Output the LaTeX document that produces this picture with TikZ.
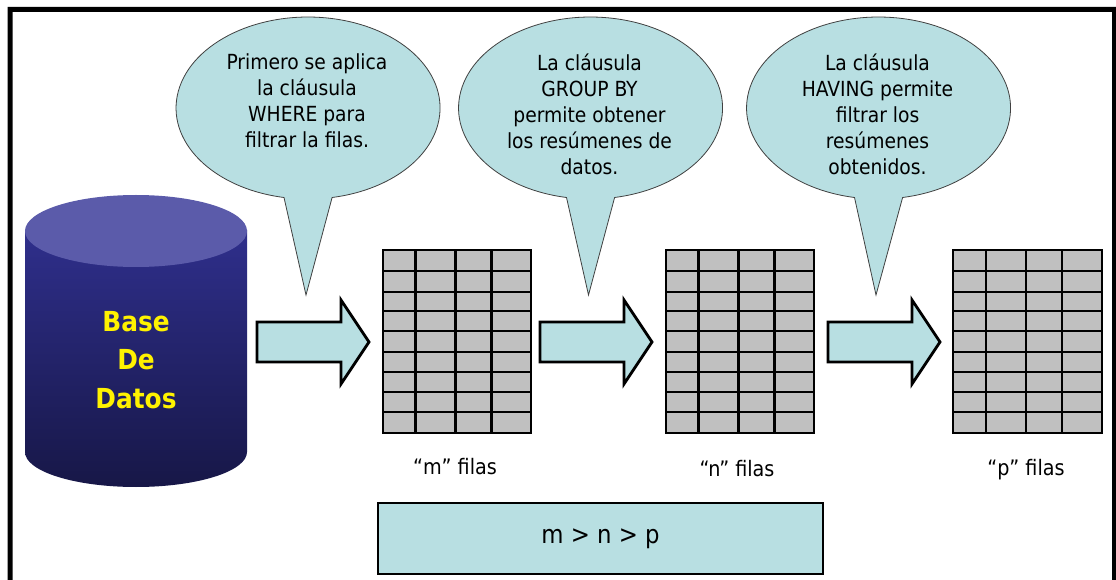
\documentclass[tikz,border=0pt]{standalone}
\usepackage{fontspec}
\setmainfont{DejaVu Sans Condensed}
\definecolor{paleblue}{HTML}{B8DFE2}
\definecolor{cellgray}{HTML}{C0C0C0}
\definecolor{cyltop}{HTML}{5B5BAA}
\definecolor{cylhi}{HTML}{2F2F8C}
\definecolor{cyllo}{HTML}{171747}
\tikzset{
  x=0.75pt,y=-0.75pt,
  bubbleshape/.style={fill=paleblue,draw=black!75,line width=0.6pt},
  bubbletext/.style={align=center,font=\fontsize{15.6pt}{19.6pt}\selectfont,text=black,inner sep=0pt},
  arrowshape/.style={fill=paleblue,draw=black,line width=2.1pt,miter limit=10},
  gridline/.style={draw=black,line width=2.1pt},
  caption/.style={font=\fontsize{16pt}{17pt}\selectfont,inner sep=0pt},
  dbtext/.style={align=center,text=yellow,font=\fontsize{20.7pt}{29pt}\selectfont\bfseries,inner sep=0pt},
}
\newcommand{\rowsgrid}[2]{%
  \begin{scope}[shift={(#1,0)},xscale=#2]
    \fill[cellgray] (0,250) rectangle (149,433);
    \foreach \yy in {271,292,311,331,352,372,392,412}
      \draw[gridline] (0,\yy) -- (149,\yy);
    \foreach \xx in {33,73,109}
      \draw[gridline] (\xx,250) -- (\xx,433);
    \draw[gridline] (0,250) rectangle (149,433);
  \end{scope}}
\newcommand{\bigarrow}[1]{%
  \begin{scope}[shift={(#1,0)}]
    \draw[arrowshape] (0,322) -- (84,322) -- (84,300) -- (112,342) -- (84,384) -- (84,362) -- (0,362) -- cycle;
  \end{scope}}
\newcommand{\bubble}[3]{%
  \draw[bubbleshape] (#1-24,197.5)
    arc[start angle=100.5,end angle=439.5,x radius=132,y radius=91] -- (#1+#2,295) -- cycle;
  \node[bubbletext,anchor=north] at (#1-1,53.5) {#3};}
\begin{document}
\begin{tikzpicture}
\useasboundingbox (0,0) rectangle (1116,580);
\fill[white] (0,0) rectangle (1116,580);
\fill[black,even odd rule] (7.5,7) rectangle (1116,580) (12.5,12) rectangle (1112,580);
% cylinder
\shade[top color=cylhi,middle color=cylhi!47!cyllo,bottom color=cyllo]
  (25,230) -- (25,452) arc[start angle=180,end angle=0,x radius=111,y radius=35] -- (247,230) -- cycle;
\fill[cyltop] (136,231) ellipse[x radius=111,y radius=36];
\node[dbtext] (db) at (136,360) {Base\\De\\Datos};
\bubble{308}{-2}{Primero se aplica\\la cláusula\\WHERE para\\filtrar la filas.}
\bubble{590.5}{-2}{La cláusula\\GROUP BY\\permite obtener\\los resúmenes de\\datos.}
\bubble{878.5}{-2.5}{La cláusula\\HAVING permite\\filtrar los\\resúmenes\\obtenidos.}
\bigarrow{257}\bigarrow{540}\bigarrow{828}
\rowsgrid{383}{0.9933}\rowsgrid{666}{0.9933}\rowsgrid{953}{1}
\node[caption] (m) at (455,467) {“m” filas};
\node[caption] (n) at (737,469) {“n” filas};
\node[caption] (p) at (1026,470) {“p” filas};
\node[draw=black,line width=2.1pt,fill=paleblue,minimum width=445pt*0.75,minimum height=71pt*0.75,inner sep=0pt,font=\fontsize{19pt}{22pt}\selectfont] (ineq) at (600.5,538.5) {m > n > p};
\end{tikzpicture}
\end{document}
